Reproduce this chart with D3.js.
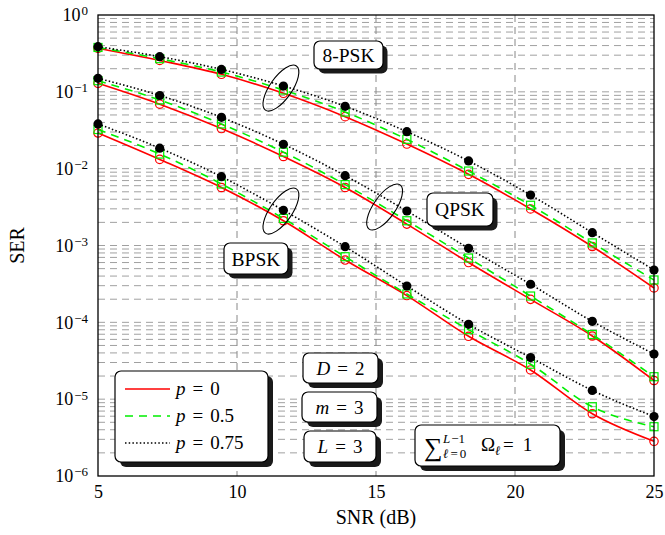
<!DOCTYPE html>
<html>
<head>
<meta charset="utf-8">
<script src="https://cdn.jsdelivr.net/npm/d3@7"></script>
<style>
body{margin:0;background:#fff}
text{font-family:"Liberation Serif","Times New Roman",serif;fill:#000}
</style>
</head>
<body>
<svg id="chart"></svg>
<script>
// SNR points (dB) where markers sit
var snr = [5, 7.22, 9.44, 11.67, 13.89, 16.11, 18.33, 20.56, 22.78, 25]
var xTicks = [5, 10, 15, 20, 25]
var yExponents = [0, -1, -2, -3, -4, -5, -6]

// SER, one array per modulation and p
var psk8_p0    = [0.369, 0.256, 0.169, 0.0957, 0.0475, 0.0209, 0.00844, 0.00299, 0.00097, 0.00028]
var psk8_p05   = [0.378, 0.270, 0.181, 0.1056, 0.0546, 0.0241, 0.00932, 0.00334, 0.00108, 0.000356]
var psk8_p075  = [0.387, 0.287, 0.196, 0.119, 0.0648, 0.0303, 0.0126, 0.00454, 0.00147, 0.00048]
var qpsk_p0    = [0.129, 0.069, 0.0333, 0.0144, 0.00569, 0.0019, 0.0006, 0.000199, 0.0000664, 0.0000175]
var qpsk_p05   = [0.1396, 0.0783, 0.0382, 0.0164, 0.0062, 0.0021, 0.000687, 0.00022, 0.0000694, 0.0000196]
var qpsk_p075  = [0.150, 0.0896, 0.0466, 0.0208, 0.0081, 0.00281, 0.00092, 0.000313, 0.000103, 0.0000387]
var bpsk_p0    = [0.0291, 0.0132, 0.00569, 0.0021, 0.000647, 0.000223, 0.0000658, 0.000024, 0.00000646, 0.00000283]
var bpsk_p05   = [0.0323, 0.0155, 0.00632, 0.00225, 0.000715, 0.000234, 0.0000802, 0.0000285, 0.00000797, 0.00000438]
var bpsk_p075  = [0.0382, 0.0185, 0.00786, 0.00287, 0.000965, 0.000297, 0.0000942, 0.0000348, 0.000013, 0.00000594]

var pLabels = ["0", "0.5", "0.75"]

var screen = {width:665, height:535}
var margins = {top:15, right:11, bottom:59, left:98}
var width = screen.width - margins.left - margins.right
var height = screen.height - margins.top - margins.bottom

var styles = [
    {color:"#ff0000", dash:null, width:1.6},
    {color:"#00ee00", dash:"8,6", width:1.6},
    {color:"#000000", dash:"1.5,2.2", width:1.6}
]

var series = [
    {p:0, values:psk8_p0}, {p:1, values:psk8_p05}, {p:2, values:psk8_p075},
    {p:0, values:qpsk_p0}, {p:1, values:qpsk_p05}, {p:2, values:qpsk_p075},
    {p:0, values:bpsk_p0}, {p:1, values:bpsk_p05}, {p:2, values:bpsk_p075}
]
// draw in p order, like the original plot
series.sort(function(a,b){return a.p - b.p})

var svg = d3.select("#chart")
    .attr("width", screen.width)
    .attr("height", screen.height)

var g = svg.append("g")
    .attr("transform", "translate(" + margins.left + "," + margins.top + ")")

var xScale = d3.scaleLinear().domain([5, 25]).range([0, width])
var yScale = d3.scaleLog().domain([1e-6, 1]).range([height, 0])

// grid: every minor decade step, dashed grey
var gridVals = []
for (var e = -6; e < 0; e++) {
    for (var k = 1; k <= 9; k++) {
        if (e == -6 && k == 1) continue
        gridVals.push(k * Math.pow(10, e))
    }
}
g.append("g").selectAll("line")
    .data(gridVals)
    .enter()
    .append("line")
    .attr("x1", 0).attr("x2", width)
    .attr("y1", function(d){return yScale(d)})
    .attr("y2", function(d){return yScale(d)})
    .attr("stroke", "#a0a0a0")
    .attr("stroke-width", 1)
    .attr("stroke-dasharray", "7,5")

g.append("g").selectAll("line")
    .data([10, 15, 20])
    .enter()
    .append("line")
    .attr("x1", function(d){return xScale(d)})
    .attr("x2", function(d){return xScale(d)})
    .attr("y1", 0).attr("y2", height)
    .attr("stroke", "#888")
    .attr("stroke-width", 1)
    .attr("stroke-dasharray", "7,5")

// axes
var xAxis = d3.axisBottom(xScale).tickValues(xTicks).tickSize(0).tickPadding(9)
var gx = g.append("g")
    .attr("transform", "translate(0," + height + ")")
    .call(xAxis)
gx.select(".domain").remove()
gx.selectAll("text").style("font-size", "18px").style("font-family", "Liberation Serif")

var yAxis = d3.axisLeft(yScale)
    .tickValues(yExponents.map(function(e){return Math.pow(10, e)}))
    .tickSize(0).tickPadding(10)
    .tickFormat("")
var gy = g.append("g").call(yAxis)
gy.select(".domain").remove()
gy.selectAll("text")
    .style("font-size", "18px")
    .style("font-family", "Liberation Serif")
    .each(function(d){
        var t = d3.select(this)
        var ex = Math.round(Math.log10(d))
        t.append("tspan").text("10")
        t.append("tspan").attr("dy", "-0.45em").attr("dx", 1).style("font-size", "13px")
            .text(ex < 0 ? "\u2212" + (-ex) : "" + ex)
    })

// lines
var line = d3.line()
    .x(function(d, i){return xScale(snr[i])})
    .y(function(d){return yScale(d)})
    .curve(d3.curveMonotoneX)

var clip = svg.append("defs").append("clipPath").attr("id", "plotclip")
clip.append("rect").attr("x", -6).attr("y", -6).attr("width", width + 12).attr("height", height + 12)

series.forEach(function(s){
    var st = styles[s.p]
    var sg = g.append("g").attr("clip-path", "url(#plotclip)")
    sg.append("path")
        .datum(s.values)
        .attr("d", line)
        .attr("fill", "none")
        .attr("stroke", st.color)
        .attr("stroke-width", st.width)
        .attr("stroke-dasharray", st.dash)

    if (s.p == 0) {
        sg.selectAll("circle").data(s.values).enter().append("circle")
            .attr("cx", function(d, i){return xScale(snr[i])})
            .attr("cy", function(d){return yScale(d)})
            .attr("r", 4.2)
            .attr("fill", "none")
            .attr("stroke", st.color)
            .attr("stroke-width", 1.2)
    } else if (s.p == 1) {
        sg.selectAll("rect").data(s.values).enter().append("rect")
            .attr("x", function(d, i){return xScale(snr[i]) - 4})
            .attr("y", function(d){return yScale(d) - 4})
            .attr("width", 8).attr("height", 8)
            .attr("fill", "none")
            .attr("stroke", st.color)
            .attr("stroke-width", 1.2)
    } else {
        sg.selectAll("circle").data(s.values).enter().append("circle")
            .attr("cx", function(d, i){return xScale(snr[i])})
            .attr("cy", function(d){return yScale(d)})
            .attr("r", 4.6)
            .attr("fill", "#000")
    }
})

// frame
g.append("rect")
    .attr("width", width).attr("height", height)
    .attr("fill", "none").attr("stroke", "#000").attr("stroke-width", 1.3)

// ellipses grouping the curves
var ellipses = [{x:11.58, y:0.112}, {x:11.58, y:0.00281}, {x:15.31, y:0.00317}]
g.selectAll(".ell").data(ellipses).enter().append("ellipse")
    .attr("class", "ell")
    .attr("transform", function(d){return "translate(" + xScale(d.x) + "," + yScale(d.y) + ") rotate(35)"})
    .attr("rx", 11).attr("ry", 27)
    .attr("fill", "none").attr("stroke", "#000").attr("stroke-width", 1.1)

// box with a drop shadow, absolute svg coords
function box(x, y, w, h, off) {
    svg.append("rect").attr("x", x + off).attr("y", y + off).attr("width", w).attr("height", h)
        .attr("rx", 6).attr("fill", "#1a1a1a")
    svg.append("rect").attr("x", x).attr("y", y).attr("width", w).attr("height", h)
        .attr("rx", 6).attr("fill", "#fff").attr("stroke", "#000").attr("stroke-width", 1.2)
}
function label(x, y, txt) {
    svg.append("text").attr("x", x).attr("y", y).attr("text-anchor", "middle")
        .style("font-size", "19.5px").text(txt)
}

box(314, 41, 69, 28, 4.5); label(348.5, 62, "8-PSK")
box(427, 193, 66, 33, 4.5); label(460, 216, "QPSK")
box(224, 243, 64, 31, 4.5); label(256, 265.5, "BPSK")

// legend
box(115, 371, 153, 91, 5)
var legRows = [389, 416, 443]
pLabels.forEach(function(p, i){
    var st = styles[i]
    svg.append("line").attr("x1", 125).attr("x2", 170).attr("y1", legRows[i]).attr("y2", legRows[i])
        .attr("stroke", st.color).attr("stroke-width", st.width).attr("stroke-dasharray", st.dash)
    var t = svg.append("text").attr("x", 176).attr("y", legRows[i] + 6).style("font-size", "19px")
    t.append("tspan").style("font-style", "italic").text("p")
    t.append("tspan").attr("dx", 7).text("=")
    t.append("tspan").attr("dx", 7).text(p)
})

// parameter boxes
function mathBox(x, y, w, h, v, val) {
    box(x, y, w, h, 5)
    var t = svg.append("text").attr("x", x + w / 2).attr("y", y + h / 2 + 6.5)
        .attr("text-anchor", "middle").style("font-size", "19px")
    t.append("tspan").style("font-style", "italic").text(v)
    t.append("tspan").attr("dx", 7).text("=")
    t.append("tspan").attr("dx", 7).text(val)
}
mathBox(303, 353, 75, 30, "D", "2")
mathBox(302, 392, 75, 30, "m", "3")
mathBox(304, 431, 72, 31, "L", "3")

// sum of omegas box
box(415, 425, 145, 41, 5)
svg.append("text").attr("x", 424).attr("y", 456).style("font-size", "26px").text("\u2211")
var sup = svg.append("text").attr("x", 443).attr("y", 443).style("font-size", "13px")
sup.append("tspan").style("font-style", "italic").text("L")
sup.append("tspan").attr("dx", 1).text("\u22121")
var sub = svg.append("text").attr("x", 443).attr("y", 458).style("font-size", "13px")
sub.append("tspan").style("font-style", "italic").text("\u2113")
sub.append("tspan").attr("dx", 2).text("=")
sub.append("tspan").attr("dx", 2).text("0")
svg.append("text").attr("x", 481).attr("y", 451).style("font-size", "19px").text("\u03A9")
svg.append("text").attr("x", 495).attr("y", 455).style("font-size", "13px").style("font-style", "italic").text("\u2113")
var eq = svg.append("text").attr("x", 503).attr("y", 451).style("font-size", "19px")
eq.append("tspan").text("=")
eq.append("tspan").attr("dx", 9).text("1")

// axis titles
svg.append("text")
    .attr("x", margins.left + width / 2).attr("y", 524)
    .attr("text-anchor", "middle").style("font-size", "20px")
    .text("SNR (dB)")
svg.append("text")
    .attr("transform", "translate(24," + (margins.top + height / 2) + ") rotate(-90)")
    .attr("text-anchor", "middle").style("font-size", "20px")
    .text("SER")
</script>
</body>
</html>
